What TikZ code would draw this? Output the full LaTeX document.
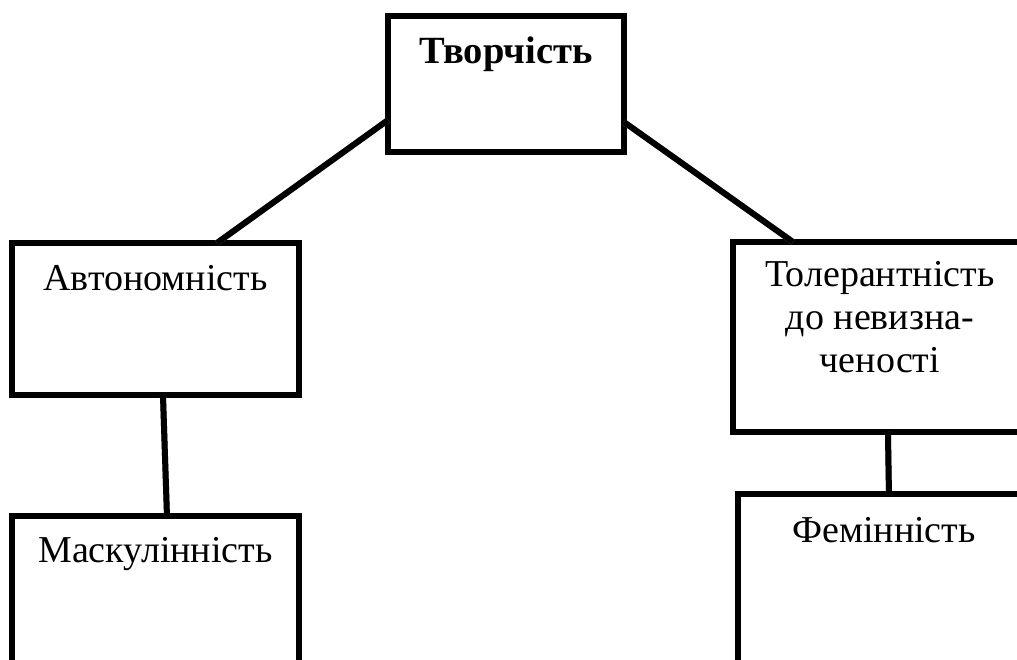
\documentclass[tikz,border=0pt]{standalone}
\usepackage{fontspec}
\setmainfont{Liberation Serif}
\usetikzlibrary{calc}
\begin{document}
\begin{tikzpicture}[x=1pt,y=1pt,
  boxnode/.style={draw=black,line width=6pt,rectangle,inner sep=0pt,outer sep=0pt,fill=white},
  txt/.style={anchor=base,inner sep=0pt,font=\fontsize{38}{43}\selectfont,align=center},
  conn/.style={draw=black,line width=6pt},
  connshadow/.style={draw=black!40,line width=6pt,shift={(1.5,-1.5)}}]
\useasboundingbox (0,0) rectangle (1017,-659);
\clip (0,0) rectangle (1017,-659);
\fill[white] (0,0) rectangle (1017,-659);
% boxes
\node[boxnode,minimum width=236pt,minimum height=136pt] (top) at (506,-84) {};
\node[boxnode,minimum width=287pt,minimum height=152pt] (auto) at (155.5,-319) {};
\node[boxnode,minimum width=287pt,minimum height=200pt] (mask) at (155.5,-616) {};
\node[boxnode,minimum width=294pt,minimum height=190pt] (tol) at (880,-337) {};
\node[boxnode,minimum width=292pt,minimum height=200pt] (fem) at (884,-594) {};
% texts
\node[txt,font=\fontsize{38.5}{45}\selectfont\bfseries] (ttop) at ($(top.north)+(0,-47)$) {Творчість};
\node[txt] (tauto) at ($(auto.north)+(0,-47)$) {Автономність};
\node[txt] (tmask) at ($(mask.north)+(0,-46)$) {Маскулінність};
\node[txt,anchor=north] (ttol) at ($(tol.north)+(0,-19)$) {Толерантність\\до невизна-\\ченості};
\node[txt] (tfem) at ($(fem.north)+(0,-48)$) {Фемінність};
% connector end points
\coordinate (a1) at ($(top.north west)!0.765!(top.south west)$);
\coordinate (a2) at ($(auto.north west)!0.714!(auto.north east)$);
\coordinate (b1) at ($(top.north east)!0.78!(top.south east)$);
\coordinate (b2) at ($(tol.north west)!0.204!(tol.north east)$);
\coordinate (c1) at ($(auto.south west)!0.526!(auto.south east)$);
\coordinate (c2) at ($(mask.north west)!0.54!(mask.north east)$);
\coordinate (d1) at ($(tol.south west)!0.527!(tol.south east)$);
\coordinate (d2) at ($(fem.north west)!0.517!(fem.north east)$);
% connectors
\draw[connshadow] (a1) -- (a2);
\draw[connshadow] (b1) -- (b2);
\draw[connshadow] (c1) -- (c2);
\draw[connshadow] (d1) -- (d2);
\draw[conn] (a1) -- (a2);
\draw[conn] (b1) -- (b2);
\draw[conn] (c1) -- (c2);
\draw[conn] (d1) -- (d2);
\end{tikzpicture}
\end{document}
